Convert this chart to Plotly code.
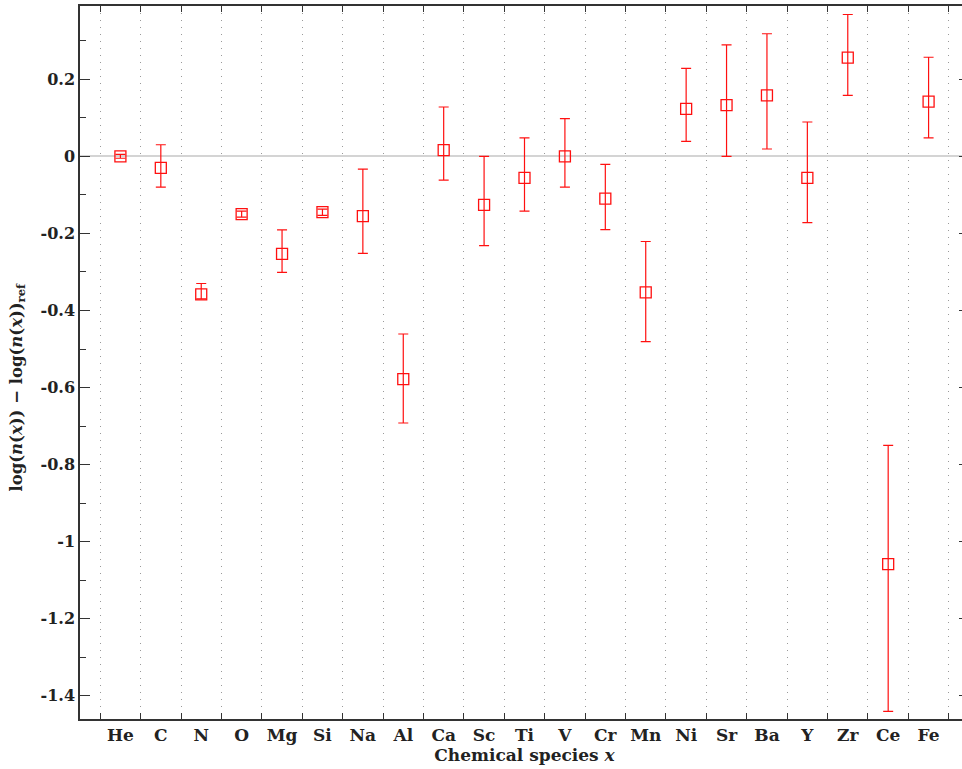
import plotly.graph_objects as go

# Chemical species and their abundance offsets relative to the reference
species = ["He", "C", "N", "O", "Mg", "Si", "Na", "Al", "Ca", "Sc", "Ti",
           "V", "Cr", "Mn", "Ni", "Sr", "Ba", "Y", "Zr", "Ce", "Fe"]
delta_log_n = [0.0, -0.03, -0.358, -0.15, -0.253, -0.145, -0.155, -0.578,
               0.016, -0.126, -0.056, 0.0, -0.11, -0.353, 0.123, 0.133,
               0.158, -0.056, 0.256, -1.058, 0.142]
err_plus = [0.005, 0.06, 0.028, 0.008, 0.062, 0.008, 0.122, 0.117,
            0.112, 0.126, 0.104, 0.098, 0.089, 0.132, 0.105, 0.156,
            0.16, 0.145, 0.112, 0.308, 0.115]
err_minus = [0.005, 0.05, 0.012, 0.008, 0.048, 0.008, 0.097, 0.114,
             0.078, 0.106, 0.086, 0.08, 0.08, 0.128, 0.084, 0.133,
             0.139, 0.116, 0.098, 0.382, 0.094]

y_tickvals = [0.2, 0.0, -0.2, -0.4, -0.6, -0.8, -1.0, -1.2, -1.4]
y_ticktext = ["0.2", "0", "-0.2", "-0.4", "-0.6", "-0.8", "-1", "-1.2", "-1.4"]
y_title = "<b>log(<i>n</i>(<i>x</i>)) − log(<i>n</i>(<i>x</i>))<sub>ref</sub></b>"

RED = "#ff1010"
AXIS = "#333333"
FONT = "DejaVu Serif"

fig = go.Figure()
fig.add_trace(go.Scatter(
    x=species,
    y=delta_log_n,
    mode="markers",
    marker=dict(symbol="square-open", size=11, color=RED,
                line=dict(color=RED, width=1.3)),
    error_y=dict(type="data", symmetric=False, array=err_plus,
                 arrayminus=err_minus, color=RED, thickness=1.2, width=5),
    showlegend=False,
    cliponaxis=False,
))

fig.update_layout(
    width=970,
    height=769,
    margin=dict(l=80, r=1, t=6, b=50),
    paper_bgcolor="white",
    plot_bgcolor="white",
    font=dict(family=FONT, size=16, color="#222222"),
    xaxis=dict(
        type="category",
        categoryorder="array",
        categoryarray=species,
        range=[-1, 21],
        tickson="boundaries",
        tickangle=0,
        ticks="inside",
        ticklen=6,
        tickwidth=1.3,
        tickcolor=AXIS,
        showline=True,
        linecolor=AXIS,
        linewidth=1.5,
        mirror="ticks",
        showgrid=True,
        gridcolor="#9a9a9a",
        gridwidth=1,
        griddash="1px,6px",
        tickfont=dict(family=FONT, size=17, weight="bold"),
        title=dict(text="<b>Chemical species <i>x</i></b>",
                   font=dict(family=FONT, size=17), standoff=5),
        zeroline=False,
        automargin=False,
    ),
    yaxis=dict(
        range=[-1.46, 0.39],
        tickmode="array",
        tickvals=y_tickvals,
        ticktext=y_ticktext,
        ticks="inside",
        ticklen=10,
        tickwidth=1.3,
        tickcolor=AXIS,
        minor=dict(ticks="inside", ticklen=6, dtick=0.1, tick0=0,
                   tickcolor=AXIS, showgrid=False),
        showline=True,
        linecolor=AXIS,
        linewidth=1.5,
        mirror="ticks",
        showgrid=False,
        zeroline=True,
        zerolinecolor="#d4d4d4",
        zerolinewidth=1.6,
        tickfont=dict(family=FONT, size=16, weight="bold"),
        automargin=False,
    ),
)

# Vertical axis title placed as a rotated annotation beside the tick labels
fig.add_annotation(
    text=y_title,
    xref="paper", yref="paper",
    x=-0.07, y=0.466,
    xanchor="center", yanchor="middle",
    textangle=-90,
    showarrow=False,
    font=dict(family=FONT, size=16.5, color="#222222"),
)

fig.write_html(
    "out.html",
    post_script="document.documentElement.style.overflow='hidden';"
                "document.body.style.overflow='hidden';",
)
